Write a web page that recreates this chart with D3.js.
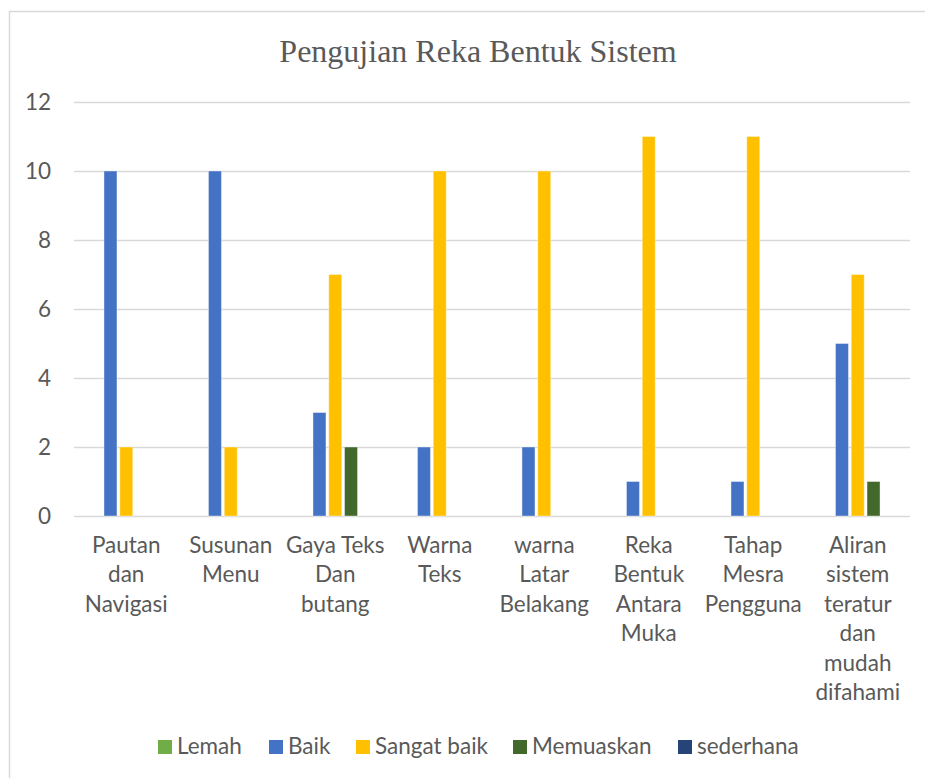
<!DOCTYPE html>
<html>
<head>
<meta charset="utf-8">
<script src="https://cdn.jsdelivr.net/npm/d3@7"></script>
<style>
  html, body { margin: 0; padding: 0; background: #ffffff; }
  svg { display: block; }
</style>
</head>
<body>
<svg id="chart" width="925" height="778"></svg>
<script>
const title = "Pengujian Reka Bentuk Sistem";
const categories = [
  ["Pautan", "dan", "Navigasi"],
  ["Susunan", "Menu"],
  ["Gaya Teks", "Dan", "butang"],
  ["Warna", "Teks"],
  ["warna", "Latar", "Belakang"],
  ["Reka", "Bentuk", "Antara", "Muka"],
  ["Tahap", "Mesra", "Pengguna"],
  ["Aliran", "sistem", "teratur", "dan", "mudah", "difahami"]
];
const seriesNames = ["Lemah", "Baik", "Sangat baik", "Memuaskan", "sederhana"];
const seriesColors = ["#70AD47", "#4472C4", "#FFC000", "#43682B", "#264478"];
const lemah      = [0, 0, 0, 0, 0, 0, 0, 0];
const baik       = [10, 10, 3, 2, 2, 1, 1, 5];
const sangatBaik = [2, 2, 7, 10, 10, 11, 11, 7];
const memuaskan  = [0, 0, 2, 0, 0, 0, 0, 1];
const sederhana  = [0, 0, 0, 0, 0, 0, 0, 0];
const yTicks = [0, 2, 4, 6, 8, 10, 12];

(function () {
const seriesValues = [lemah, baik, sangatBaik, memuaskan, sederhana];
const catKeys = categories.map((c, i) => "c" + i);

const svg = d3.select("#chart");
const textColor = "#595959";
const font = "Lato, 'Open Sans', sans-serif";
const fs = 22.5;

// chart border
svg.append("rect")
  .attr("x", 9.5).attr("y", 11.5)
  .attr("width", 940).attr("height", 800)
  .attr("fill", "#fff").attr("stroke", "#d9d9d9").attr("stroke-width", 1.5);

// title
svg.append("text")
  .attr("x", 478).attr("y", 62)
  .attr("text-anchor", "middle")
  .attr("font-family", "'Liberation Serif', 'Times New Roman', serif")
  .attr("font-size", 32)
  .attr("fill", textColor)
  .text(title);

const pLeft = 74, pRight = 910, pTop = 102, pBottom = 516;

const x0 = d3.scaleBand().domain(catKeys).range([pLeft, pRight])
  .paddingInner(0.245).paddingOuter(0.1225);
const x1 = d3.scaleBand().domain(seriesNames).range([0, x0.bandwidth()])
  .paddingInner(0.177).paddingOuter(0.0885);
const y = d3.scaleLinear().domain([0, 12]).range([pBottom, pTop]);

// gridlines
const yAxis = d3.axisLeft(y).tickValues(yTicks).tickSize(-(pRight - pLeft)).tickPadding(23);
const gy = svg.append("g").attr("transform", `translate(${pLeft},0)`).call(yAxis);
gy.select(".domain").remove();
gy.selectAll(".tick line").attr("stroke", "#d9d9d9").attr("stroke-width", 1.5);
gy.selectAll(".tick text")
  .attr("font-family", font).attr("font-size", fs).attr("fill", textColor);

// bars
const groups = svg.append("g").selectAll("g")
  .data(catKeys)
  .join("g")
  .attr("transform", d => `translate(${x0(d)},0)`);

groups.selectAll("rect")
  .data((d, i) => seriesNames.map((s, j) => ({ s, v: seriesValues[j][i], c: seriesColors[j] })).filter(e => e.v > 0))
  .join("rect")
  .attr("x", d => x1(d.s))
  .attr("width", x1.bandwidth())
  .attr("y", d => y(d.v))
  .attr("height", d => y(0) - y(d.v))
  .attr("fill", d => d.c)
  .attr("stroke", "#ffffff").attr("stroke-opacity", 0.4).attr("stroke-width", 1);

// x labels
const xBand = d3.scaleBand().domain(catKeys).range([pLeft, pRight]);
const xl = svg.append("g");
categories.forEach((lines, i) => {
  const cx = xBand(catKeys[i]) + xBand.bandwidth() / 2;
  const t = xl.append("text")
    .attr("x", cx)
    .attr("y", 553)
    .attr("text-anchor", "middle")
    .attr("font-family", font).attr("font-size", fs)
    .attr("fill", textColor);
  lines.forEach((ln, k) => {
    t.append("tspan")
      .attr("x", cx)
      .attr("dy", k === 0 ? 0 : 29.4)
      .text(ln);
  });
});

// legend
const legendX = [158, 269, 356, 513, 678];
const lg = svg.append("g");
seriesNames.forEach((s, j) => {
  lg.append("rect")
    .attr("x", legendX[j]).attr("y", 740)
    .attr("width", 14).attr("height", 14)
    .attr("fill", seriesColors[j]);
  lg.append("text")
    .attr("x", legendX[j] + 19).attr("y", 754)
    .attr("font-family", font).attr("font-size", fs)
    .attr("fill", textColor)
    .text(s);
});
})();
</script>
</body>
</html>
